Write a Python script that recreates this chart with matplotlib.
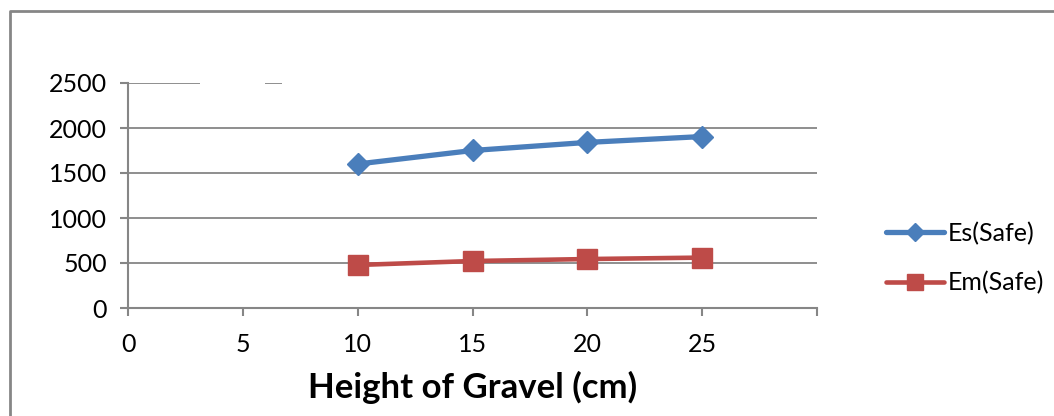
import matplotlib
matplotlib.use("Agg")
import matplotlib.pyplot as plt
from matplotlib.lines import Line2D

heights = [10, 15, 20, 25]
es_safe = [1600, 1750, 1840, 1905]
em_safe = [478, 522, 544, 560]
x_ticks = [0, 5, 10, 15, 20, 25, 30]
x_tick_labels = ["0", "5", "10", "15", "20", "25", ""]
y_ticks = [0, 500, 1000, 1500, 2000, 2500]

W, H = 1054, 416
fig = plt.figure(figsize=(W / 100, H / 100), dpi=100)
plt.rcParams['font.family'] = ['Lato', 'DejaVu Sans']

def fx(px):
    return px / W

def fy(py):
    return 1 - py / H

ax = fig.add_axes([fx(128), fy(308), fx(817) - fx(128), fy(83) - fy(308)])
ax.set_xlim(0, 30)
ax.set_ylim(0, 2500)

grid_c = "#868686"
# gridlines (top one partly hidden as in the reference)
for v in y_ticks[1:-1]:
    ax.axhline(v, color=grid_c, lw=1.3, zorder=1)
ax.hlines(2500, 0, 3.13, color=grid_c, lw=1.3, zorder=1)
ax.hlines(2500, 5.97, 6.70, color=grid_c, lw=1.3, zorder=1)

blue = "#4A7EBB"
red = "#BE4B48"
ax.plot(heights, es_safe, color=blue, lw=3.8, marker="D", markersize=11,
        label="Es(Safe)", zorder=3, solid_capstyle="round")
ax.plot(heights, em_safe, color=red, lw=3.3, marker="s", markersize=14,
        label="Em(Safe)", zorder=3, solid_capstyle="round")

for s in ["top", "right"]:
    ax.spines[s].set_visible(False)
for s in ["left", "bottom"]:
    ax.spines[s].set_color(grid_c)
    ax.spines[s].set_linewidth(1.5)

ax.set_xticks(x_ticks)
ax.set_xticklabels(x_tick_labels)
ax.set_yticks(y_ticks)
ax.tick_params(axis="both", colors=grid_c, length=6, width=1.5, labelsize=18,
               labelcolor="black")
ax.tick_params(axis="x", pad=12)
ax.tick_params(axis="y", pad=9)

ax.set_xlabel("Height of Gravel (cm)", fontsize=25, fontweight="bold", labelpad=11)

leg = ax.legend(loc="center left", bbox_to_anchor=(fx(886), fy(258)),
                bbox_transform=fig.transFigure, frameon=False, fontsize=18,
                handlelength=2.3, handletextpad=0.15, labelspacing=1.05,
                borderaxespad=0, borderpad=0, markerscale=0.85)

# outer chart border (left and top visible)
fig.add_artist(Line2D([fx(10), fx(10), fx(1054)], [fy(416), fy(11), fy(11)],
                      color=grid_c, lw=2, transform=fig.transFigure))

fig.savefig("out.png", dpi=100)
